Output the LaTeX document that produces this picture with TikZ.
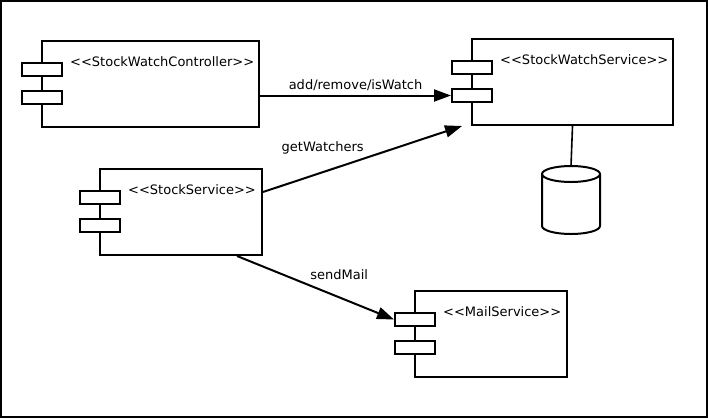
\documentclass[tikz,border=0pt]{standalone}
\usepackage{fontspec}
\setmainfont{DejaVu Sans}
\usetikzlibrary{arrows.meta}
\newcommand{\drawthick}{\draw[line width=2pt]}
\tikzset{
  compbox/.style={draw, line width=2pt, inner sep=0pt, minimum height=86pt, anchor=north west},
  portbox/.style={draw, fill=white, line width=2pt, inner sep=0pt, minimum width=40pt, minimum height=13pt, anchor=north west},
  stereo/.style={anchor=base west, inner sep=0pt},
  call/.style={line width=2pt, -{Triangle[length=17pt,width=12pt]}},
}
% name, left, top, width, stereotype
\newcommand{\component}[5]{
  \node[compbox, minimum width=#4pt] (#1) at (#2,#3) {};
  \node[portbox] (#1-a) at (#2-20,#3+22) {};
  \node[portbox] (#1-b) at (#2-20,#3+50) {};
  \node[stereo] (#1-name) at (#2+29,#3+26) {<{}<#5>{}>};
}
\begin{document}
\begin{tikzpicture}[x=1pt, y=-1pt, font=\fontsize{13}{15}\selectfont]
\useasboundingbox (0,0) rectangle (708,418);
\drawthick (1,1) rectangle (707,417);
\component{ctrl}{41}{40}{217}{StockWatchController}
\component{sws}{471}{38}{201}{StockWatchService}
\component{ss}{99}{168}{162}{StockService}
\component{ms}{414}{290}{152}{MailService}
% database
\coordinate (db) at (571,166);
\draw[line width=1.6pt] (sws.south) -- (db);
\drawthick (db) ++(0,8) ellipse (29pt and 8pt);
\drawthick ([xshift=-29pt]db) ++(0,8) -- ++(0,52) arc[start angle=180, end angle=360, x radius=29pt, y radius=8pt] -- ++(0,-52);
% calls
\coordinate (sws-in) at ([xshift=-9pt]sws.south west);
\draw[call] (ctrl.east |- sws-b.west) -- node[above] {add/remove/isWatch} (sws-b.west);
\draw[call] ([yshift=20pt]ss.east) -- node[pos=.3, above=14pt] {getWatchers} (sws-in);
\draw[call] ([xshift=56pt]ss.south) -- node[pos=.44, above right=0pt] {sendMail} (ms-a.west);
\end{tikzpicture}
\end{document}
